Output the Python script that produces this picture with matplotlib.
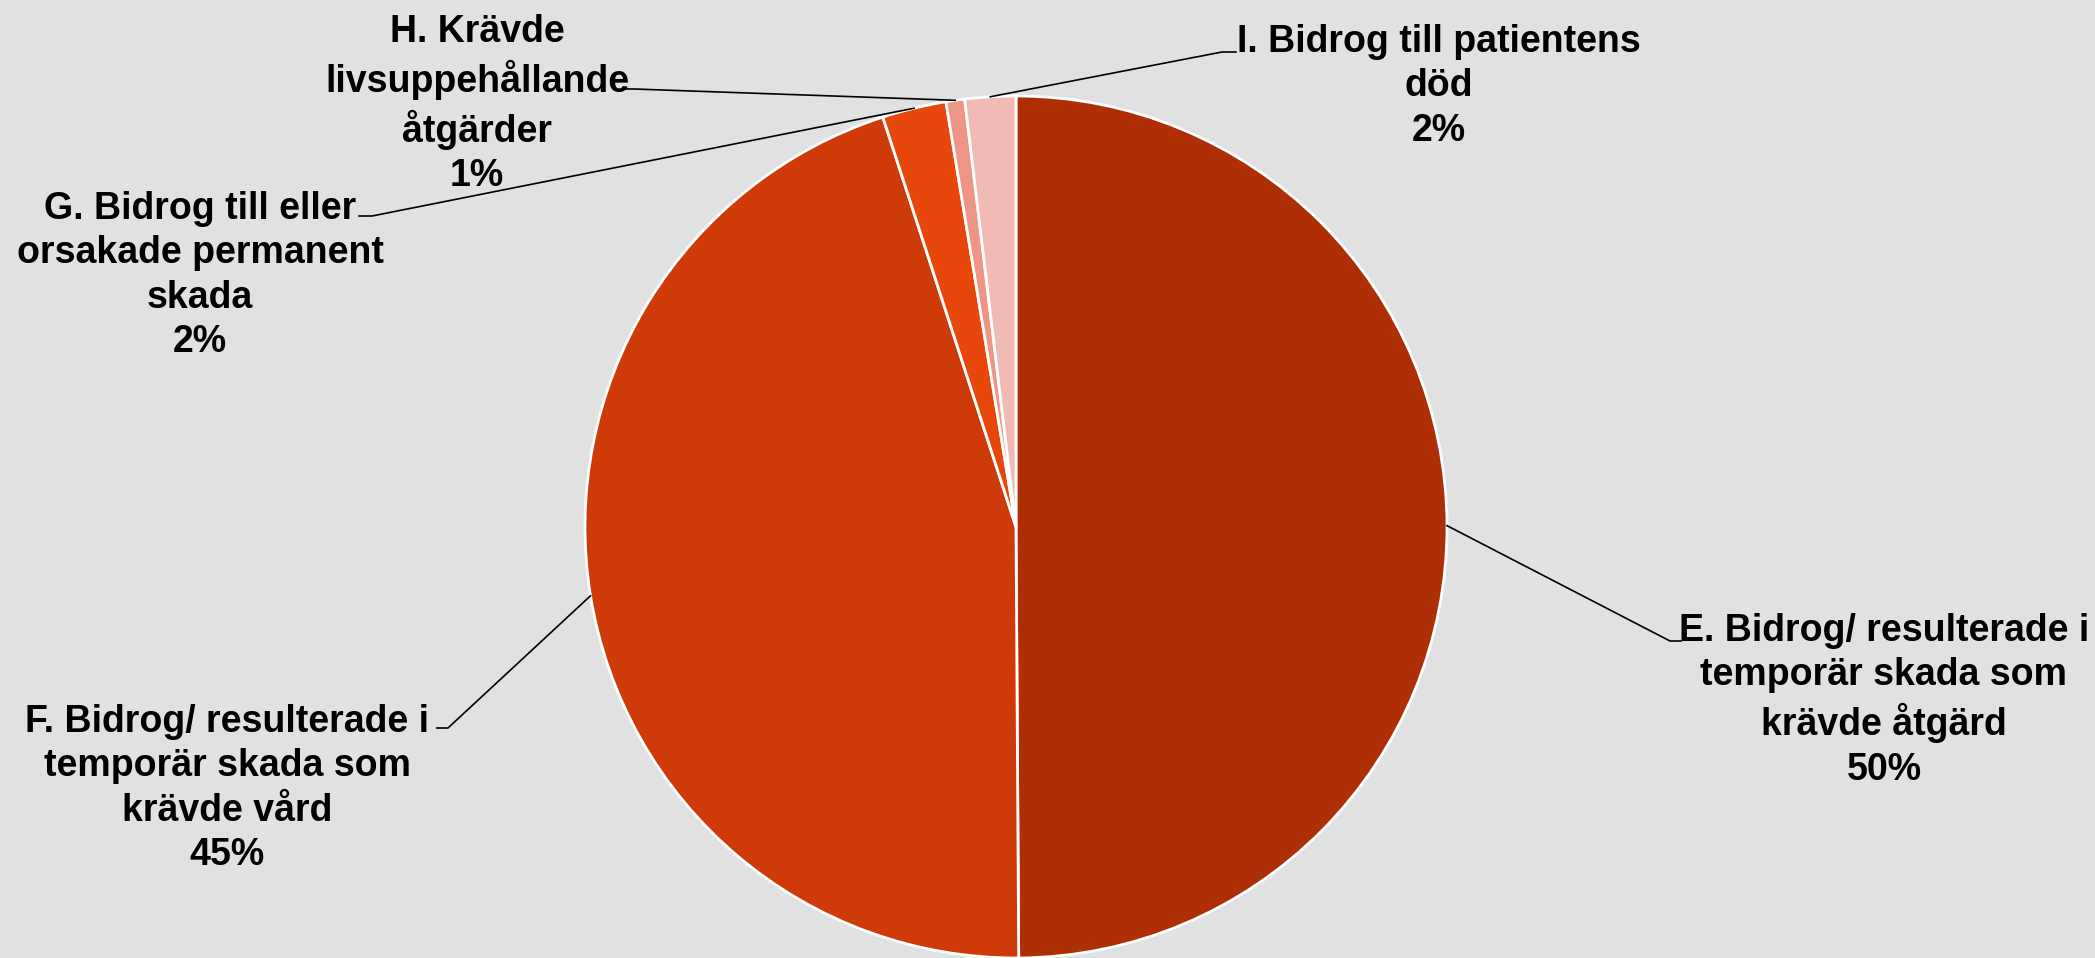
import numpy as np
import matplotlib.pyplot as plt

# share of events per severity class (clockwise from 12 o'clock)
categories = [
    "E. Bidrog/ resulterade i\ntemporär skada som\nkrävde åtgärd",
    "F. Bidrog/ resulterade i\ntemporär skada som\nkrävde vård",
    "G. Bidrog till eller\norsakade permanent\nskada",
    "H. Krävde\nlivsuppehållande\nåtgärder",
    "I. Bidrog till patientens\ndöd",
]
shares = [49.9, 45.1, 2.4, 0.7, 1.9]
colors = ["#AE2F05", "#CF3B08", "#E8470C", "#EE9585", "#F2BAB5"]

W, H = 2095, 958
bg = "#E1E1E1"

fig = plt.figure(figsize=(W / 100, H / 100), dpi=100, facecolor=bg)
ax = fig.add_axes([0, 0, 1, 1])
ax.set_facecolor(bg)

cx, cy, r = 1016, H - 527, 431
wedges, _ = ax.pie(shares, colors=colors, startangle=90, counterclock=False,
                   center=(cx, cy), radius=r, frame=True,
                   wedgeprops=dict(edgecolor="white", linewidth=2))
ax.set_xlim(0, W)
ax.set_ylim(0, H)
ax.set_aspect("equal")
ax.axis("off")

# label anchor (top centre of text block), elbow point and short horizontal end
label_pos = [(1884, 613), (227, 704), (200, 191), (477, 14), (1439, 24)]
elbow = [(1670, 641), (448, 728), (372, 216), (634, 89), (1222, 52)]
tail = [(1681, 641), (437, 728), (359, 216), (624, 89), (1236, 52)]

for w, name, val, lp, el, tl in zip(wedges, categories, shares, label_pos, elbow, tail):
    ang = np.deg2rad((w.theta1 + w.theta2) / 2)
    px, py = cx + r * np.cos(ang), cy + r * np.sin(ang)
    ax.plot([px, el[0], tl[0]], [py, H - el[1], H - tl[1]], color="black", lw=1.2)
    ax.text(lp[0], H - lp[1], f"{name}\n{round(val)}%", ha="center", va="top",
            multialignment="center", fontsize=27, fontweight="bold",
            family="Liberation Sans", linespacing=1.3)

plt.savefig("out.png", dpi=100, facecolor=bg)
